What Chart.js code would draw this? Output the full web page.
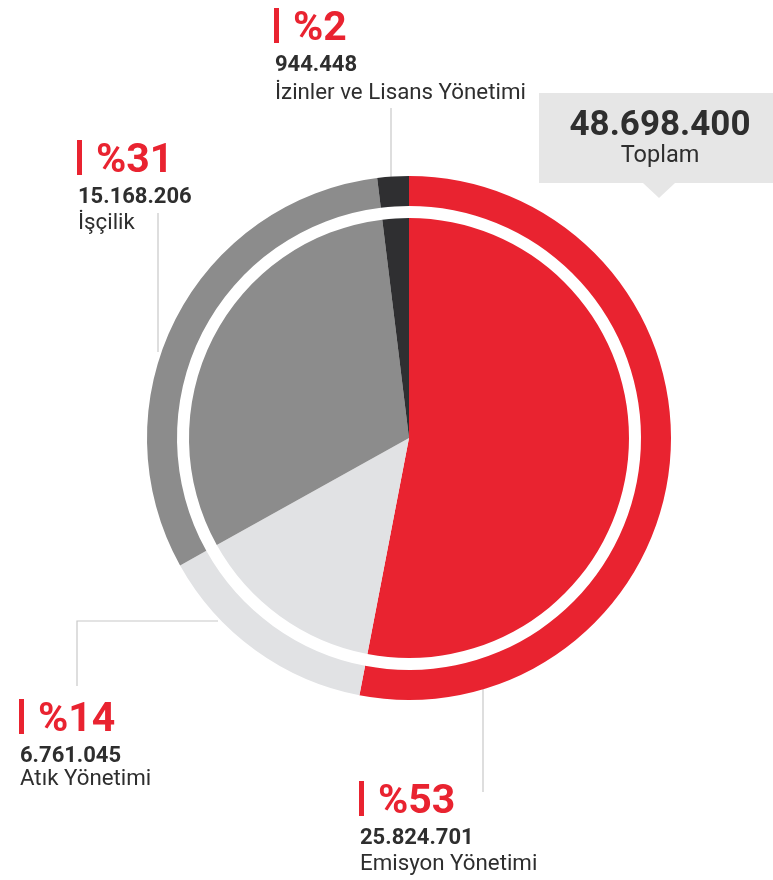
<!DOCTYPE html>
<html>
<head>
<meta charset="utf-8">
<script src="https://cdn.jsdelivr.net/npm/chart.js@4.4.1/dist/chart.umd.min.js"></script>
<style>
  html, body { margin: 0; padding: 0; background: #fff; }
  #wrap { position: relative; width: 773px; height: 880px; }
</style>
</head>
<body>
<div id="wrap"><canvas id="myChart" width="773" height="880"></canvas></div>
<script>
// data, clockwise from the top
const categories = ['Emisyon Yönetimi', 'Atık Yönetimi', 'İşçilik', 'İzinler ve Lisans Yönetimi'];
const amounts = [25824701, 6761045, 15168206, 944448];
const sliceColors = ['#e92330', '#e1e2e4', '#8c8c8c', '#2f2f31'];
const totalLabel = 'Toplam';

const total = amounts.reduce((a, b) => a + b, 0);

//format numbers like 48.698.400
function fmt(n) {
  return String(n).replace(/\B(?=(\d{3})+(?!\d))/g, '.');
}

const RED = '#e92330';
const TEXT = '#2e2e2e';
const LINE = '#c8c8c8';
const FONT = 'Roboto, "Noto Sans", sans-serif';

// where each label block sits (bar x, text baseline of the percent line)
const labelPos = [
  {x: 359, y: 813, name: 870},
  {x: 19, y: 731, name: 785},
  {x: 77, y: 172, name: 229},
  {x: 274, y: 40, name: 99}
];

// leader lines from labels to ring
const leaders = [
  [[483, 688], [483, 792]],
  [[77, 686], [77, 621], [218, 621]],
  [[158, 213], [158, 352]],
  [[391, 108], [391, 177]]
];

const labelsPlugin = {
  id: 'labels',
  beforeDraw(chart) {
    const ctx = chart.ctx;
    ctx.save();
    // total box with pointer
    ctx.fillStyle = '#e6e6e6';
    ctx.fillRect(539, 93, 234, 90);
    ctx.beginPath();
    ctx.moveTo(643, 183);
    ctx.lineTo(675, 183);
    ctx.lineTo(659, 198);
    ctx.closePath();
    ctx.fill();
    // leader lines
    ctx.strokeStyle = LINE;
    ctx.lineWidth = 1.2;
    leaders.forEach(pts => {
      ctx.beginPath();
      pts.forEach((p, i) => i ? ctx.lineTo(p[0], p[1]) : ctx.moveTo(p[0], p[1]));
      ctx.stroke();
    });
    ctx.restore();
  },
  afterDraw(chart) {
    const ctx = chart.ctx;
    ctx.save();
    ctx.textBaseline = 'alphabetic';
    ctx.fillStyle = TEXT;
    ctx.textAlign = 'center';
    ctx.font = 'bold 35px ' + FONT;
    ctx.fillText(fmt(total), 660, 135);
    ctx.font = '23.5px ' + FONT;
    ctx.fillText(totalLabel, 660, 162);

    ctx.textAlign = 'left';
    categories.forEach((c, i) => {
      const p = labelPos[i];
      const pct = Math.round(amounts[i] / total * 100);
      ctx.fillStyle = RED;
      ctx.fillRect(p.x, p.y - 32, 5, 35);
      ctx.font = 'bold 41px ' + FONT;
      ctx.fillText('%' + pct, p.x + 19, p.y);
      ctx.fillStyle = TEXT;
      ctx.font = 'bold 22px ' + FONT;
      ctx.fillText(fmt(amounts[i]), p.x + 1, p.y + 31);
      ctx.font = '22.3px ' + FONT;
      ctx.fillText(c, p.x + 1, p.name);
    });
    ctx.restore();
  }
};

const ctx = document.getElementById('myChart');

new Chart(ctx, {
  type: 'doughnut',
  data: {
    labels: categories,
    datasets: [
      {data: amounts, backgroundColor: sliceColors, borderWidth: 0, weight: 30},
      {data: amounts, backgroundColor: 'rgba(0,0,0,0)', borderWidth: 0, weight: 12},
      {data: amounts, backgroundColor: sliceColors, borderWidth: 0, weight: 220}
    ]
  },
  options: {
    responsive: false,
    animation: false,
    cutout: 0,
    layout: {padding: {left: 147, right: 102, top: 176, bottom: 180}},
    plugins: {
      legend: {display: false},
      tooltip: {enabled: false}
    },
    events: []
  },
  plugins: [labelsPlugin]
});
</script>
</body>
</html>
